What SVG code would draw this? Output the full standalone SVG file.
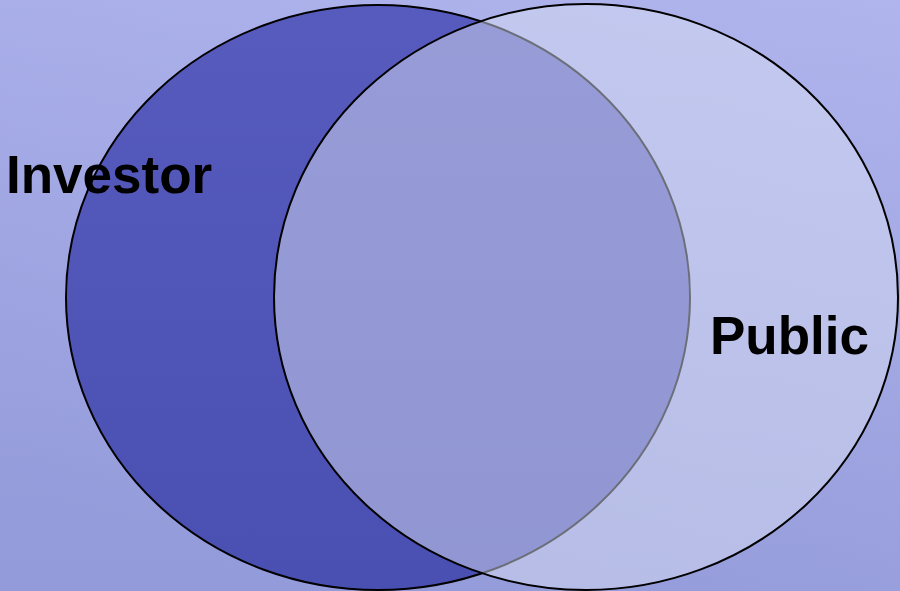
<svg xmlns="http://www.w3.org/2000/svg" width="900" height="591" viewBox="0 0 900 591">
<defs>
<linearGradient id="bg" x1="900" y1="0" x2="700" y2="700" gradientUnits="userSpaceOnUse">
<stop offset="0" stop-color="#b4b9f2"/>
<stop offset="1" stop-color="#959cdc"/>
</linearGradient>
<linearGradient id="bg2" x1="0" y1="0" x2="0" y2="591" gradientUnits="userSpaceOnUse">
<stop offset="0" stop-color="#a9aee6"/>
<stop offset="1" stop-color="#9299d6"/>
</linearGradient>
<linearGradient id="lf" x1="0" y1="0" x2="0" y2="1">
<stop offset="0" stop-color="#575bbe"/>
<stop offset="1" stop-color="#4a4fb2"/>
</linearGradient>
<style>
.lbl{font-family:"Liberation Sans",Arial,sans-serif;font-weight:bold;font-size:53px;fill:#000}
.ring{stroke:#000;stroke-width:2}
</style>
</defs>
<rect width="900" height="591" fill="url(#bg2)"/>
<rect width="900" height="591" fill="url(#bg)" opacity="0.6"/>
<g id="investor">
<ellipse class="ring" cx="378" cy="297.5" rx="312" ry="292.5" fill="url(#lf)"/>
</g>
<g id="public">
<ellipse class="ring" cx="586" cy="297" rx="312" ry="293" fill="#d8def2" fill-opacity="0.5" stroke-opacity="1"/>
</g>
<g id="labels">
<text class="lbl" x="6" y="193">Investor</text>
<text class="lbl" x="710" y="354">Public</text>
</g>
<g id="connectors"/>
</svg>
